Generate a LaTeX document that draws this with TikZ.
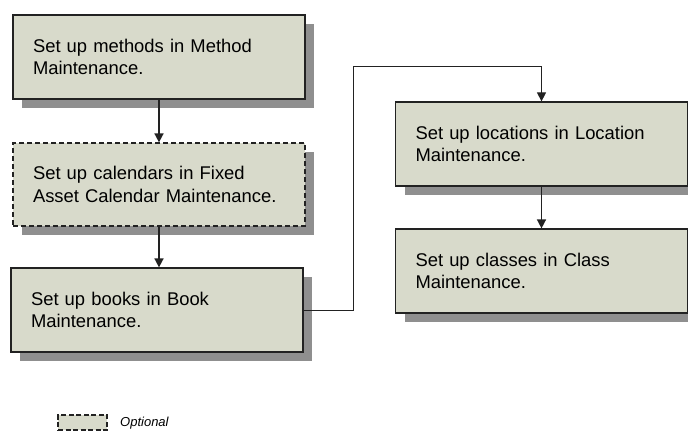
\documentclass[tikz,border=0pt]{standalone}
\usepackage{fontspec}
\setmainfont{Liberation Sans}
\usetikzlibrary{arrows.meta,shadows}
\definecolor{boxfill}{RGB}{216,218,203}
\definecolor{shadowgray}{RGB}{143,143,143}
\definecolor{edgegray}{RGB}{34,34,34}

\begin{document}
\begin{tikzpicture}[x=1pt, y=-1pt,
    stepbox/.style={draw=edgegray, line width=1.2pt, fill=boxfill,
      minimum width=292pt, minimum height=84pt, text width=252pt,
      inner xsep=20pt, align=left, font=\fontsize{18.4}{22.7}\selectfont,
      drop shadow={shadow xshift=9pt, shadow yshift=-9pt, fill=shadowgray, opacity=1}},
    optbox/.style={stepbox, dash pattern=on 5pt off 3pt},
    flow/.style={draw=edgegray, line width=1.5pt, -{Triangle[width=9pt,length=9pt]}},
    link/.style={draw=edgegray, line width=0.9pt, -{Triangle[width=9pt,length=9pt]}}]
	\useasboundingbox (0,0) rectangle (688,432);
	% left column
	\node[stepbox] (methods) at (159,57) {Set up methods in Method\\Maintenance.};
	\node[optbox, minimum height=83pt] (calendars) at (159,184.5) {Set up calendars in Fixed\\Asset Calendar Maintenance.};
	\node[stepbox] (books) at (157,310) {Set up books in Book\\Maintenance.};
	% right column
	\node[stepbox, minimum width=291pt] (locations) at (541.5,144) {Set up locations in Location\\Maintenance.};
	\node[stepbox, minimum width=291pt] (classes) at (541.5,271) {Set up classes in Class\\Maintenance.};
	% connectors
	\draw[flow] (methods) -- (calendars);
	\draw[flow] (calendars.south) -- (calendars.south |- books.north);
	\coordinate (bend) at (353,66);
	\draw[link] (books.east) -| (bend) -| (locations.north);
	\draw[flow] (locations) -- (classes);
	% legend
	\node[draw=edgegray, line width=1.3pt, dash pattern=on 5pt off 2.5pt, fill=boxfill, minimum width=49pt, minimum height=15pt, inner sep=0pt] (legendbox) at (82.5,422.5) {};
	\node[anchor=west, inner sep=0pt, font=\fontsize{13}{15}\selectfont\itshape] (legendtext) at (120,423) {Optional};
\end{tikzpicture}
\end{document}
